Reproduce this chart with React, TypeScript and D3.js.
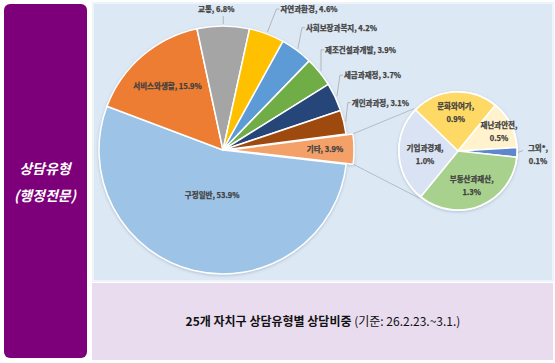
import React, { useRef, useEffect } from "react";
import * as d3 from "d3";

const mainLabels = ["구정일반", "서비스와생활", "교통", "자연과환경", "사회보장과복지", "제조건설과개발", "세금과재정", "개인과과정", "기타"];
const mainValues = [53.9, 15.9, 6.8, 4.6, 4.2, 3.9, 3.7, 3.1, 3.9];
const mainColors = ["#9dc3e6", "#ed7d31", "#a5a5a5", "#ffc000", "#5b9bd5", "#70ad47", "#264478", "#9e480e", "#f4a069"];

const subLabels = ["문화와여가", "재난과안전", "그외*", "부동산과재산", "기업과경제"];
const subValues = [0.9, 0.5, 0.1, 1.3, 1.0];
const subColors = ["#ffd966", "#fff2cc", "#5f86cc", "#a9d18e", "#dae3f3"];

const W = 555;
const H = 363;
const deg = Math.PI / 180;

// 라벨 배치 (슬라이스 기준 오프셋)
// inside: 중심에서의 반지름, outside: 지시선 끝점에서 dx/dy
const mainLabelLayout = [
  { type: "in", r: 46 },
  { type: "in", r: 85 },
  { type: "top", dx: -7, dy: -12 },
  { type: "out", dx: 13, dy: -20 },
  { type: "out", dx: 8, dy: -18 },
  { type: "out", dx: 4, dy: -18 },
  { type: "out", dx: 7, dy: -18 },
  { type: "out", dx: 6, dy: -16 },
  { type: "in", r: 95 },
];
const subLabelLayout = [
  { r: 40, dx: 0, dy: 0 },
  { r: 46, dx: 0, dy: 0 },
  { r: 80, dx: 0, dy: 0 },
  { r: 36, dx: 0, dy: 0 },
  { r: 33, dx: 0, dy: 0 },
];

export default function App() {
  const svgRef = useRef<SVGSVGElement>(null);

  useEffect(() => {
    if (!svgRef.current) return;
    const svg = d3.select(svgRef.current);
    svg.selectAll("*").remove();

    const font = "'Noto Sans CJK KR', 'Noto Sans', sans-serif";
    const labelColor = "#404040";

    // 굵은 라벨 스타일
    const bold = (sel: any) =>
      sel.style("font-family", font).style("font-size", "7.5px").style("font-weight", "bold")
        .style("fill", labelColor).style("stroke", labelColor).style("stroke-width", "0.25px");

    const defs = svg.append("defs");
    const f = defs.append("filter").attr("id", "shadow").attr("x", "-10%").attr("y", "-10%").attr("width", "120%").attr("height", "120%");
    f.append("feDropShadow").attr("dx", 0).attr("dy", 1).attr("stdDeviation", 1.5).attr("flood-color", "#7f8fa6").attr("flood-opacity", 0.45);

    // 왼쪽 보라색 패널
    svg.append("rect").attr("x", 4).attr("y", 4).attr("width", 83).attr("height", 354).attr("rx", 6).attr("fill", "#7d007a");
    svg.append("text").attr("x", 45).attr("y", 174).attr("text-anchor", "middle")
      .style("font-family", font).style("font-size", "14px").style("font-weight", "bold").style("font-style", "italic")
      .style("fill", "#ffffff").text("상담유형");
    svg.append("text").attr("x", 45).attr("y", 201).attr("text-anchor", "middle")
      .style("font-family", font).style("font-size", "14px").style("font-weight", "bold").style("font-style", "italic")
      .style("fill", "#ffffff").text("(행정전문)");

    // 차트 영역
    svg.append("rect").attr("x", 93).attr("y", 3).attr("width", 460).attr("height", 278)
      .attr("fill", "#dce8f4").attr("stroke", "#eef4fa").attr("stroke-width", 2);
    // 하단 캡션 영역
    svg.append("rect").attr("x", 92).attr("y", 283).attr("width", 461).attr("height", 77).attr("fill", "#e9dcef");
    const cap = svg.append("text").attr("x", 323).attr("y", 326).attr("text-anchor", "middle")
      .style("font-family", font).style("font-size", "12px").style("fill", "#111");
    cap.append("tspan").style("font-weight", "bold").text("25개 자치구 상담유형별 상담비중 ");
    cap.append("tspan").text("(기준: 26.2.23.~3.1.)");

    // 주 파이
    const cx = 223, cy = 150, R = 124;
    const start = 96.6 * deg;
    const pie = d3.pie<number>().sort(null).startAngle(start).endAngle(start + 2 * Math.PI);
    const arcs = pie(mainValues);
    const arc = d3.arc<d3.PieArcDatum<number>>().innerRadius(0).outerRadius(R);
    const explodeIdx = mainValues.length - 1;
    const explode = 7;

    const mainG = svg.append("g").attr("transform", `translate(${cx},${cy})`);
    mainG.append("g").attr("filter", "url(#shadow)")
      .selectAll("path").data(arcs).join("path")
      .attr("d", arc)
      .attr("transform", (d, i) => {
        if (i !== explodeIdx) return null;
        const m = (d.startAngle + d.endAngle) / 2;
        return `translate(${explode * Math.sin(m)},${-explode * Math.cos(m)})`;
      })
      .attr("fill", (d, i) => mainColors[i])
      .attr("stroke", "#ffffff").attr("stroke-width", 1.5).attr("stroke-linejoin", "round");

    const pt = (a: number, r: number) => [r * Math.sin(a), -r * Math.cos(a)];

    arcs.forEach((d, i) => {
      const lay = mainLabelLayout[i];
      const m = (d.startAngle + d.endAngle) / 2;
      const txt = `${mainLabels[i]}, ${mainValues[i].toFixed(1)}%`;
      if (lay.type === "in") {
        const off = i === explodeIdx ? explode : 0;
        const [x, y] = pt(m, (lay.r as number) + off);
        bold(mainG.append("text").attr("x", x).attr("y", y + 3).attr("text-anchor", "middle")).text(txt);
        return;
      }
      const [ax, ay] = pt(m, R + 2);
      const tx = ax + (lay.dx as number);
      const ty = ay + (lay.dy as number);
      if (lay.type === "top") {
        mainG.append("line").attr("x1", ax).attr("y1", ay).attr("x2", ax).attr("y2", ty + 4)
          .attr("stroke", "#a6a6a6").attr("stroke-width", 0.75);
        bold(mainG.append("text").attr("x", tx).attr("y", ty).attr("text-anchor", "middle")).text(txt);
      } else {
        mainG.append("polyline")
          .attr("points", `${ax},${ay} ${tx - 4},${ty - 3} ${tx - 1},${ty - 3}`)
          .attr("fill", "none").attr("stroke", "#a6a6a6").attr("stroke-width", 0.75);
        bold(mainG.append("text").attr("x", tx).attr("y", ty)).text(txt);
      }
    });

    // 보조 파이
    const sx = 458, sy = 151, sR = 59;
    const subStart = -46 * deg;
    const subPie = d3.pie<number>().sort(null).startAngle(subStart).endAngle(subStart + 2 * Math.PI);
    const subArcs = subPie(subValues);
    const subArc = d3.arc<d3.PieArcDatum<number>>().innerRadius(0).outerRadius(sR);

    // 연결선
    const ex = arcs[explodeIdx];
    const em = (ex.startAngle + ex.endAngle) / 2;
    const eox = cx + explode * Math.sin(em), eoy = cy - explode * Math.cos(em);
    const [p1x, p1y] = pt(ex.startAngle, R);
    const [p2x, p2y] = pt(ex.endAngle, R);
    const [q1x, q1y] = pt(subStart, sR + 2);
    const [q2x, q2y] = pt(subArcs[3].endAngle, sR + 2);
    svg.append("line").attr("x1", eox + p1x).attr("y1", eoy + p1y).attr("x2", sx + q1x).attr("y2", sy + q1y)
      .attr("stroke", "#b0b8c2").attr("stroke-width", 0.9);
    svg.append("line").attr("x1", eox + p2x).attr("y1", eoy + p2y).attr("x2", sx + q2x).attr("y2", sy + q2y)
      .attr("stroke", "#b0b8c2").attr("stroke-width", 0.9);

    const subG = svg.append("g").attr("transform", `translate(${sx},${sy})`);
    subG.append("circle").attr("r", sR + 1).attr("fill", "#ffffff").attr("filter", "url(#shadow)");
    subG.selectAll("path").data(subArcs).join("path")
      .attr("d", subArc)
      .attr("fill", (d, i) => subColors[i])
      .attr("stroke", "#ffffff").attr("stroke-width", 1.5).attr("stroke-linejoin", "round");

    subArcs.forEach((d, i) => {
      const lay = subLabelLayout[i];
      const m = (d.startAngle + d.endAngle) / 2;
      const [x, y] = pt(m, lay.r);
      const t = bold(subG.append("text").attr("text-anchor", "middle"));
      t.append("tspan").attr("x", x + lay.dx).attr("y", y + lay.dy - 2).text(`${subLabels[i]},`);
      t.append("tspan").attr("x", x + lay.dx).attr("y", y + lay.dy + 11).text(`${subValues[i].toFixed(1)}%`);
      if (i === 2) {
        const [ax, ay] = pt(m, sR + 1);
        const [bx, by] = pt(m, sR + 6);
        subG.append("line").attr("x1", ax).attr("y1", ay).attr("x2", bx).attr("y2", by - 2)
          .attr("stroke", "#a6a6a6").attr("stroke-width", 0.75);
      }
    });
  }, []);

  return (
    <svg
      ref={svgRef}
      width={W}
      height={H}
      viewBox={`0 0 ${W} ${H}`}
      style={{ position: "absolute", left: 0, top: 0, background: "#ffffff" }}
    />
  );
}
